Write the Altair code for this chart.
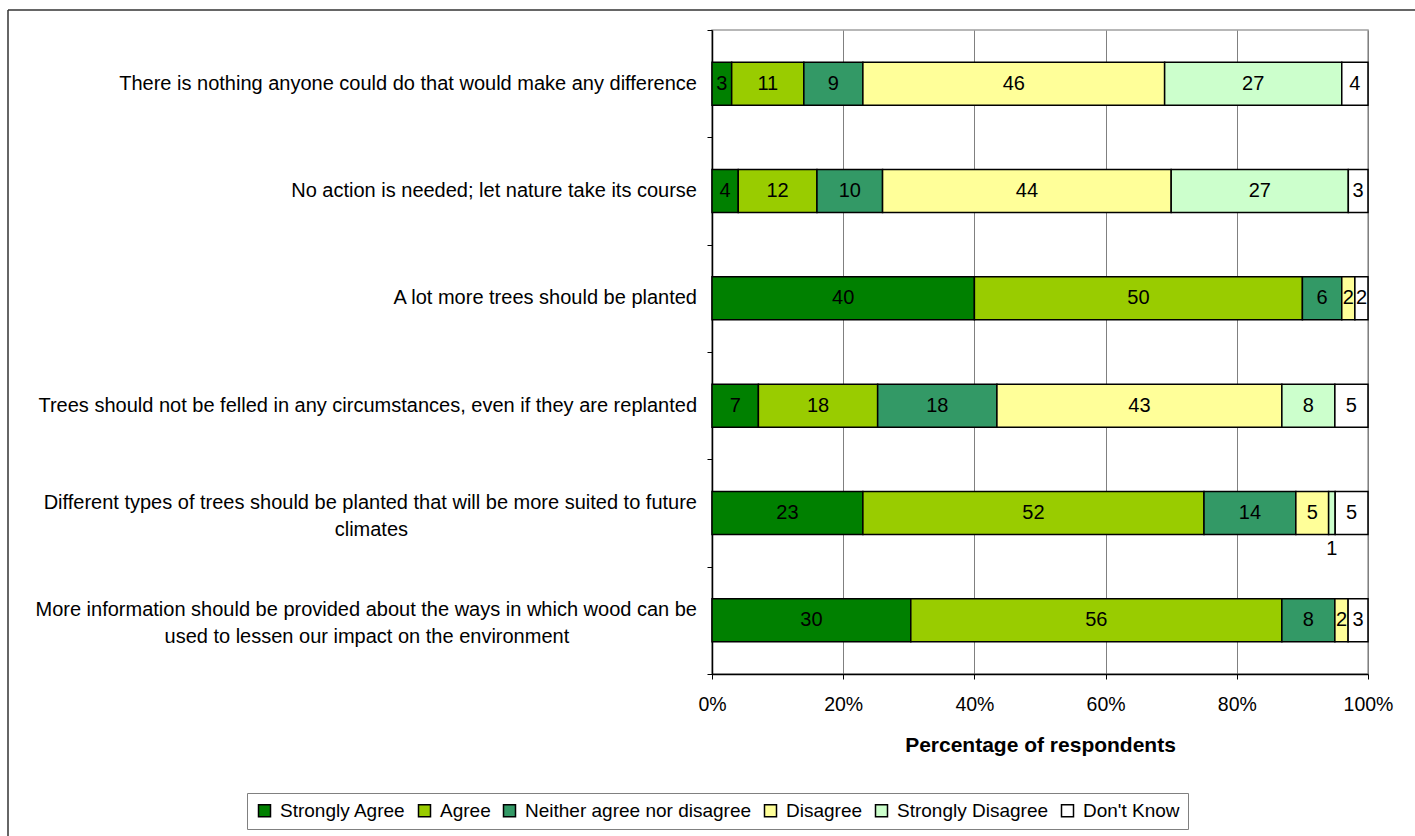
import altair as alt
import pandas as pd

FONT = "Liberation Sans"
NBSP = "\u00a0"
ZWSP = "\u200b"

questions = [
    "There is nothing anyone could do that would make any difference",
    "No action is needed; let nature take its course",
    "A lot more trees should be planted",
    "Trees should not be felled in any circumstances, even if they are replanted",
    "Different types of trees should be planted that will be more suited to future|climates",
    "More information should be provided about the ways in which wood can be|used to lessen our impact on the environment",
]

responses = ["Strongly Agree", "Agree", "Neither agree nor disagree",
             "Disagree", "Strongly Disagree", "Don't Know"]
colors = ["#008000", "#99CC00", "#339966", "#FFFF99", "#CCFFCC", "#FFFFFF"]

strongly_agree = [3, 4, 40, 7, 23, 30]
agree = [11, 12, 50, 18, 52, 56]
neither = [9, 10, 6, 18, 14, 8]
disagree = [46, 44, 2, 43, 5, 2]
strongly_disagree = [27, 27, 0, 8, 1, 0]
dont_know = [4, 3, 2, 5, 5, 3]

series = [strongly_agree, agree, neither, disagree, strongly_disagree, dont_know]

rows = []
for qi, q in enumerate(questions):
    for ri, r in enumerate(responses):
        rows.append({"question": q, "response": r, "order": ri, "value": series[ri][qi]})
df = pd.DataFrame(rows)
qdf = pd.DataFrame({"question": questions})

W, H = 656, 644
PAD_L, PAD_T = 712, 30

# second lines of wrapped labels are centred under the first line:
# pad them at the end with non-breaking spaces (label style only)
second_line_pad = {questions[4]: 52, questions[5]: 23}
label_expr = "datum.question"
for q, n in second_line_pad.items():
    l1, l2 = q.split("|")
    label_expr = (
        f"datum.question == '{q}' ? '{l1}|' + pad('{l2}', {len(l2) + n}, '{NBSP}') + '{ZWSP}' : "
        + label_expr
    )

base = (
    alt.Chart(df)
    .transform_filter("datum.value > 0")
    .transform_stack(
        stack="value",
        groupby=["question"],
        as_=["x0", "x1"],
        offset="normalize",
        sort=[alt.SortField("order", order="ascending")],
    )
    .transform_calculate(mid="(datum.x0 + datum.x1) / 2")
)

xscale = alt.Scale(domain=[0, 1], nice=False, zero=True)
yscale = alt.Scale(paddingInner=0, paddingOuter=0)

y_axis = alt.Axis(
    title=None,
    labels=False,
    tickBand="extent",
    tickSize=5,
    tickColor="black",
    tickWidth=1,
    domainColor="black",
    domainWidth=1.5,
    grid=False,
)

x_axis = alt.Axis(
    title="Percentage of respondents",
    titleFont=FONT,
    titleFontSize=21,
    titleFontWeight="bold",
    titleColor="black",
    titlePadding=21,
    format="%",
    values=[0, 0.2, 0.4, 0.6, 0.8, 1.0],
    labelFont=FONT,
    labelFontSize=19.5,
    labelColor="black",
    labelPadding=16,
    labelFlush=False,
    tickSize=5,
    tickColor="black",
    domainColor="black",
    domainWidth=1.5,
    grid=True,
    gridColor="#808080",
    gridWidth=1,
)

Y = alt.Y("question:N", sort=questions, scale=yscale, axis=y_axis)

bars = base.mark_bar(size=43, stroke="black", strokeWidth=1.5).encode(
    x=alt.X("x0:Q", scale=xscale, axis=x_axis),
    x2="x1:Q",
    y=Y,
    color=alt.Color(
        "response:N",
        scale=alt.Scale(domain=responses, range=colors),
        legend=alt.Legend(
            title=None,
            orient="none",
            legendX=247 - PAD_L,
            legendY=793 - PAD_T,
            direction="horizontal",
            columns=6,
            symbolType="square",
            symbolSize=144,
            symbolStrokeColor="black",
            symbolStrokeWidth=1.5,
            symbolOpacity=1,
            labelFont=FONT,
            labelFontSize=19,
            labelColor="black",
            labelOffset=6,
            columnPadding=9,
            padding=8,
            strokeColor="#808080",
            fillColor="white",
            labelLimit=400,
        ),
    ),
)

text_main = base.transform_filter("datum.value >= 2").mark_text(
    font=FONT, fontSize=20, color="black", baseline="middle", align="center"
).encode(
    x=alt.X("mid:Q", scale=xscale, axis=x_axis),
    y=Y,
    text=alt.Text("value:Q"),
)

text_below = base.transform_filter("datum.value == 1").mark_text(
    font=FONT, fontSize=20, color="black", baseline="middle", align="center", dy=36
).encode(
    x=alt.X("mid:Q", scale=xscale, axis=x_axis),
    y=Y,
    text=alt.Text("value:Q"),
)

# category labels (left of the axis)
qbase = alt.Chart(qdf).transform_calculate(lbl=label_expr)
cat_single = qbase.transform_filter("indexof(datum.question, '|') < 0").mark_text(
    font=FONT, fontSize=20, color="black", align="right", baseline="middle", limit=900
).encode(x=alt.value(-15), y=Y, text="lbl:N")
cat_multi = qbase.transform_filter("indexof(datum.question, '|') >= 0").mark_text(
    font=FONT, fontSize=20, color="black", align="right", baseline="bottom",
    lineBreak="|", lineHeight=27, limit=900
).encode(x=alt.value(-15), y=Y, text="lbl:N")

frame_df = pd.DataFrame({"k": [0]})
frame_left = alt.Chart(frame_df).mark_rule(color="#333333", strokeWidth=1.5).encode(
    x=alt.value(8 - PAD_L), y=alt.value(10 - PAD_T), y2=alt.value(836 - PAD_T)
)
frame_top = alt.Chart(frame_df).mark_rule(color="#333333", strokeWidth=1.5).encode(
    x=alt.value(8 - PAD_L), x2=alt.value(1415 - PAD_L), y=alt.value(10 - PAD_T)
)

chart = (
    alt.layer(bars, text_main, text_below, cat_single, cat_multi, frame_left, frame_top)
    .properties(
        width=W,
        height=H,
        autosize=alt.AutoSizeParams(type="none"),
        padding={"left": PAD_L, "top": PAD_T, "right": 1415 - PAD_L - W, "bottom": 836 - PAD_T - H},
        background="white",
    )
    .configure(font=FONT)
    .configure_view(stroke="#a0a0a0", strokeWidth=1.5)
)

chart.save("out.html", embed_options={"renderer": "svg", "actions": False})
